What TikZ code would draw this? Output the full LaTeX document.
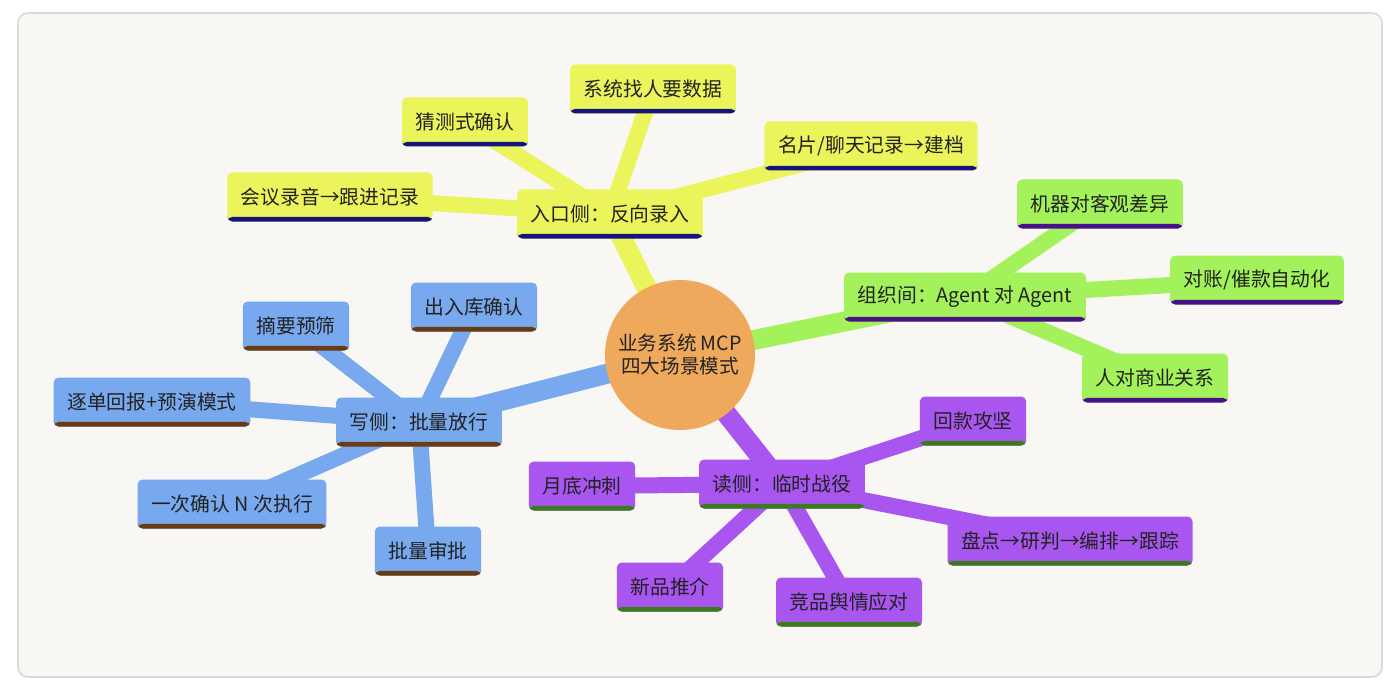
\documentclass[tikz,border=0pt]{standalone}
\usepackage{fontspec}
\setmainfont{Noto Sans CJK SC}
\usepackage{xcolor}
\usepackage{tikz}
\usetikzlibrary{backgrounds}
\pgfdeclarelayer{frame}
\pgfsetlayers{frame,background,main}

\definecolor{rootfill}{HTML}{EFA95D}
\definecolor{yelfill}{HTML}{EBF45B}
\definecolor{yelline}{HTML}{14147A}
\definecolor{grnfill}{HTML}{A3F25C}
\definecolor{grnline}{HTML}{48118A}
\definecolor{blufill}{HTML}{78A9EF}
\definecolor{bluline}{HTML}{6A3A12}
\definecolor{purfill}{HTML}{A856EF}
\definecolor{purline}{HTML}{3C7A1E}
\definecolor{framefill}{HTML}{F8F7F4}
\definecolor{frameline}{HTML}{DADADA}
\definecolor{inkc}{HTML}{222222}

\begin{document}
\begin{tikzpicture}[
    x=0.5pt, y=-0.5pt,
    root/.style={circle, fill=rootfill, minimum size=75pt, inner sep=0pt,
                 align=center, text=inkc, font=\fontsize{9.8}{11.5}\selectfont},
    topic/.style 2 args={fill=#1, rounded corners=2.5pt, minimum height=24.5pt,
                 inner xsep=6.8pt, inner ysep=0pt, text=inkc,
                 font=\fontsize{9.9}{12}\selectfont,
                 path picture={\fill[#2] ([yshift=2.3pt]path picture bounding box.south west)
                   rectangle (path picture bounding box.south east);}},
    yel/.style={topic={yelfill}{yelline}},
    grn/.style={topic={grnfill}{grnline}},
    blu/.style={topic={blufill}{bluline}},
    pur/.style={topic={purfill}{purline}},
    trunk/.style={line width=10pt, draw=#1},
    twig/.style={line width=8pt, draw=#1}
]
\useasboundingbox (0,0) rectangle (1400,695);
\begin{pgfonlayer}{frame}
\draw[frameline, fill=framefill, line width=0.8pt, rounded corners=5pt] (18,13) rectangle (1382,677);
\end{pgfonlayer}

\node[root] (root) at (680,355) {业务系统 MCP\\四大场景模式};

\node[yel] (inlet) at (610,214) {入口侧：反向录入};
\node[yel] (inlet1) at (330,197) {会议录音→跟进记录};
\node[yel] (inlet2) at (465,122) {猜测式确认};
\node[yel] (inlet3) at (653,89) {系统找人要数据};
\node[yel] (inlet4) at (871,146) {名片/聊天记录→建档};

\node[grn] (org) at (965,297) {组织间：Agent 对 Agent};
\node[grn] (org1) at (1100,204) {机器对客观差异};
\node[grn] (org2) at (1257,280) {对账/催款自动化};
\node[grn] (org3) at (1155,378) {人对商业关系};

\node[blu] (write) at (419,422) {写侧：批量放行};
\node[blu] (write1) at (296,326) {摘要预筛};
\node[blu] (write2) at (474,307) {出入库确认};
\node[blu] (write3) at (152,402) {逐单回报+预演模式};
\node[blu] (write4) at (232,504) {一次确认 N 次执行};
\node[blu] (write5) at (428,551) {批量审批};

\node[pur] (read) at (782,484) {读侧：临时战役};
\node[pur] (read1) at (973,421) {回款攻坚};
\node[pur] (read2) at (582,486) {月底冲刺};
\node[pur] (read3) at (1070,541) {盘点→研判→编排→跟踪};
\node[pur] (read4) at (670,587) {新品推介};
\node[pur] (read5) at (849,602) {竞品舆情应对};

\begin{scope}[on background layer]
\draw[trunk=yelfill] (root.center) -- (inlet.center);
\draw[trunk=grnfill] (root.center) -- (org.center);
\draw[trunk=blufill] (root.center) -- (write.center);
\draw[trunk=purfill] (root.center) -- (read.center);
\foreach \k in {1,...,4} {\draw[twig=yelfill] (inlet.center) -- (inlet\k.center);}
\foreach \k in {1,...,3} {\draw[twig=grnfill] (org.center) -- (org\k.center);}
\foreach \k in {1,...,5} {\draw[twig=blufill] (write.center) -- (write\k.center);}
\foreach \k in {1,...,5} {\draw[twig=purfill] (read.center) -- (read\k.center);}
\end{scope}
\end{tikzpicture}
\end{document}
